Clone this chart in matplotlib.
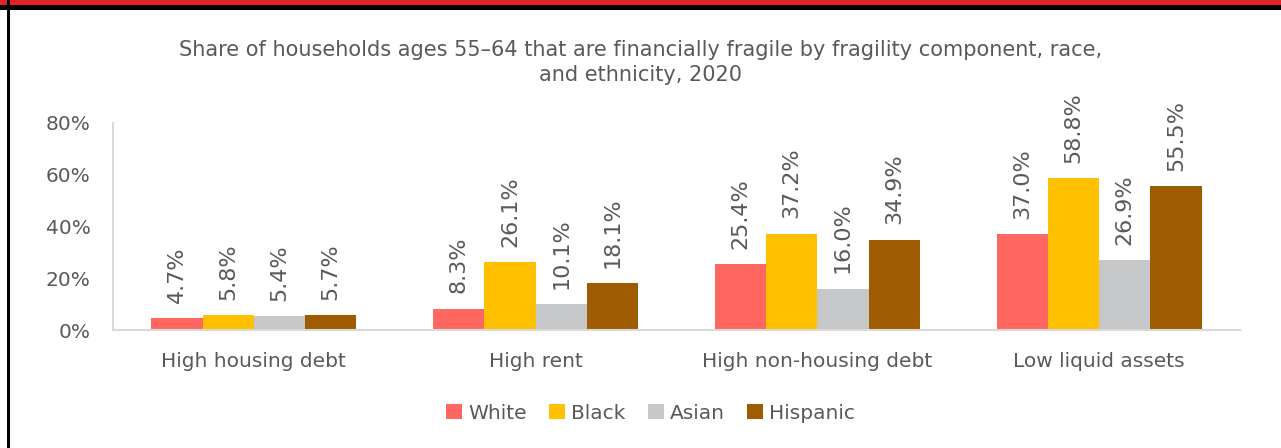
import matplotlib.pyplot as plt
import matplotlib.patches as mpatches
import numpy as np

categories = ['High housing debt', 'High rent', 'High non-housing debt', 'Low liquid assets']
groups = ['White', 'Black', 'Asian', 'Hispanic']
white = [4.7, 8.3, 25.4, 37.0]
black = [5.8, 26.1, 37.2, 58.8]
asian = [5.4, 10.1, 16.0, 26.9]
hispanic = [5.7, 18.1, 34.9, 55.5]
y_ticks = [0, 20, 40, 60, 80]

colors = ['#FF6860', '#FFC000', '#C5C7C8', '#9E5B00']
text_color = '#595959'

plt.rcParams['font.family'] = ['DejaVu Sans']

fig = plt.figure(figsize=(12.81, 4.48), dpi=100)
ax = fig.add_axes([113 / 1281, 1 - 330 / 448, (1240 - 113) / 1281, 207 / 448 * 100 / 80])

series = [white, black, asian, hispanic]
x = np.arange(len(categories))
width = 0.182
for i, (vals, name, c) in enumerate(zip(series, groups, colors)):
    pos = x + (i - 1.5) * width
    ax.bar(pos, vals, width, color=c, label=name, zorder=2)
    for p, v in zip(pos, vals):
        ax.annotate(f'{v:.1f}%', (p, v), xytext=(0, 11), textcoords='offset points',
                    rotation=90, ha='center', va='bottom', fontsize=16, color=text_color)

ax.set_xlim(-0.5, 3.5)
ax.set_ylim(0, 100)
ax.set_yticks(y_ticks)
ax.set_yticklabels([f'{t}%' for t in y_ticks])
ax.set_xticks(x)
ax.set_xticklabels(categories)
ax.tick_params(axis='both', length=0, labelsize=14.5, colors=text_color)
ax.tick_params(axis='x', pad=16)
ax.tick_params(axis='y', pad=16)
for s in ['top', 'right']:
    ax.spines[s].set_visible(False)
for s in ['left', 'bottom']:
    ax.spines[s].set_color('#D9D9D9')
    ax.spines[s].set_linewidth(1.5)
ax.spines['left'].set_bounds(0, 80)

fig.text(0.5, 1 - 50 / 448, 'Share of households ages 55\u201364 that are financially fragile by fragility component, race,',
         ha='center', va='center', fontsize=15, color=text_color)
fig.text(0.5, 1 - 75 / 448, 'and ethnicity, 2020', ha='center', va='center', fontsize=15, color=text_color)

ax.legend(loc='center', bbox_to_anchor=(0.477, (330 - 413) / 207 * 0.8), ncol=4, frameon=False,
          fontsize=14.5, labelcolor=text_color, handlelength=0.8, handleheight=0.8,
          handletextpad=0.3, columnspacing=1.1, bbox_transform=ax.transAxes)

# red band and black border
fig.add_artist(mpatches.Rectangle((0, 1 - 5 / 448), 1, 5 / 448, transform=fig.transFigure,
                                  color='#E32227', lw=0))
fig.add_artist(mpatches.Rectangle((0, 1 - 10 / 448), 1, 5 / 448, transform=fig.transFigure,
                                  color='black', lw=0))
fig.add_artist(mpatches.Rectangle((7 / 1281, 0), 3 / 1281, 1, transform=fig.transFigure,
                                  color='black', lw=0))

fig.savefig('out.png', dpi=100)
